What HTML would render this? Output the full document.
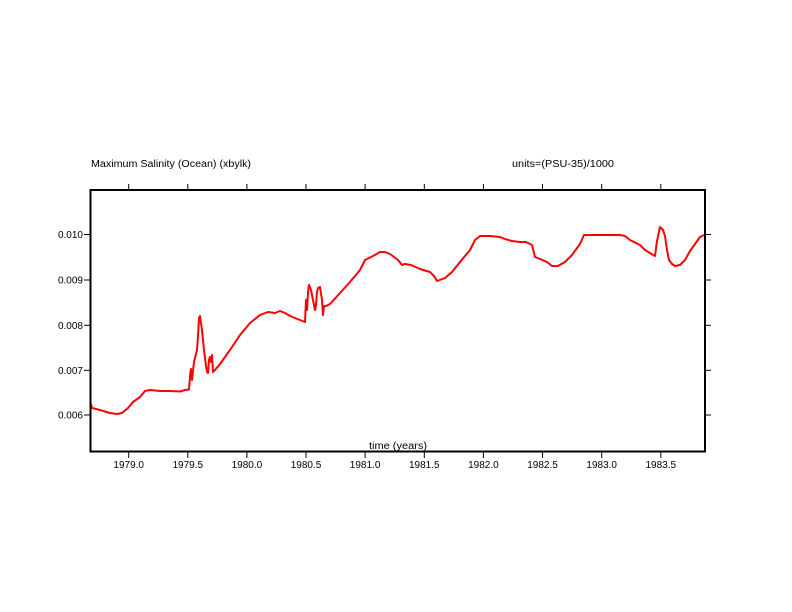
<!DOCTYPE html>
<html><head><style>
html,body{margin:0;padding:0;background:#fff;}
svg{display:block;}
text{font-family:"Liberation Sans",sans-serif;font-size:10px;fill:#000;}
</style></head><body>
<svg width="792" height="612" xmlns="http://www.w3.org/2000/svg">
<rect x="0" y="0" width="792" height="612" fill="#fff"/>
<text x="91" y="167" textLength="160" lengthAdjust="spacingAndGlyphs">Maximum Salinity (Ocean) (xbylk)</text>
<text x="512" y="167" textLength="102" lengthAdjust="spacingAndGlyphs">units=(PSU-35)/1000</text>
<text x="369" y="449" textLength="58" lengthAdjust="spacingAndGlyphs">time (years)</text>
<g stroke="#000" stroke-width="1">
<line x1="128.7" y1="184" x2="128.7" y2="190"/><line x1="187.8" y1="184" x2="187.8" y2="190"/><line x1="246.9" y1="184" x2="246.9" y2="190"/><line x1="306" y1="184" x2="306" y2="190"/><line x1="365.1" y1="184" x2="365.1" y2="190"/><line x1="424.3" y1="184" x2="424.3" y2="190"/><line x1="483.4" y1="184" x2="483.4" y2="190"/><line x1="542.5" y1="184" x2="542.5" y2="190"/><line x1="601.7" y1="184" x2="601.7" y2="190"/><line x1="660.8" y1="184" x2="660.8" y2="190"/>
<line x1="128.7" y1="452" x2="128.7" y2="458"/><line x1="187.8" y1="452" x2="187.8" y2="458"/><line x1="246.9" y1="452" x2="246.9" y2="458"/><line x1="306" y1="452" x2="306" y2="458"/><line x1="365.1" y1="452" x2="365.1" y2="458"/><line x1="424.3" y1="452" x2="424.3" y2="458"/><line x1="483.4" y1="452" x2="483.4" y2="458"/><line x1="542.5" y1="452" x2="542.5" y2="458"/><line x1="601.7" y1="452" x2="601.7" y2="458"/><line x1="660.8" y1="452" x2="660.8" y2="458"/>
<line x1="84" y1="234.5" x2="90" y2="234.5"/><line x1="84" y1="280" x2="90" y2="280"/><line x1="84" y1="325.3" x2="90" y2="325.3"/><line x1="84" y1="370.3" x2="90" y2="370.3"/><line x1="84" y1="415" x2="90" y2="415"/>
<line x1="705" y1="234.5" x2="711" y2="234.5"/><line x1="705" y1="280" x2="711" y2="280"/><line x1="705" y1="325.3" x2="711" y2="325.3"/><line x1="705" y1="370.3" x2="711" y2="370.3"/><line x1="705" y1="415" x2="711" y2="415"/>
</g>
<g text-anchor="end">
<text x="83" y="238">0.010</text><text x="83" y="283.5">0.009</text><text x="83" y="329">0.008</text><text x="83" y="374">0.007</text><text x="83" y="418.5">0.006</text>
</g>
<g text-anchor="middle">
<text x="128.7" y="468">1979.0</text><text x="187.8" y="468">1979.5</text><text x="246.9" y="468">1980.0</text><text x="306" y="468">1980.5</text><text x="365.1" y="468">1981.0</text><text x="424.3" y="468">1981.5</text><text x="483.4" y="468">1982.0</text><text x="542.5" y="468">1982.5</text><text x="601.7" y="468">1983.0</text><text x="660.8" y="468">1983.5</text>
</g>
<polyline fill="none" stroke="#f00" stroke-width="2" stroke-linejoin="round" points="91,404 92,408 100,410 110,413 117,414 122,413 128,408 133,402 140,397 145,391 150,390 160,391 170,391 180,391.5 185,390 189,389.5 190,376 191,369 192,380 194,362 197,350 198,336 199,318 200,316 202,330 204,350 206,366 207,372 208,373 209,360 210,357 211,362 212,355 213,372 215,370 220,364 230,350 240,335 250,323 260,315 268,312 275,313 280,311 285,313 290,316 300,320 305,322 306,300 307,310 308,292 309,285 311,290 313,300 315,310 316,305 317,292 318,288 320,287 322,300 323,315 324,306 326,306 330,304 340,293 350,282 360,270 365,260 373,256 380,252 385,252 390,254 398,260 402,265 405,264 411,265 420,269 430,272 434,276 437,281 445,278 452,272 460,262 470,250 475,240 480,236 490,236 500,237 505,239 512,241 520,242 526,242 532,245 535,257 540,259 547,262 552,266 558,266 565,262 572,255 580,244 584,235 600,235 620,235 625,236 630,240 640,245 643,248 645,250 650,253 655,256 657,241 660,227 663,230 665,236 667,250 669,260 672,264 675,266 680,265 685,260 690,251 695,244 700,237 704,235"/>
<rect x="90.5" y="190" width="614.5" height="261.5" fill="none" stroke="#000" stroke-width="2"/>
</svg>
</body></html>
